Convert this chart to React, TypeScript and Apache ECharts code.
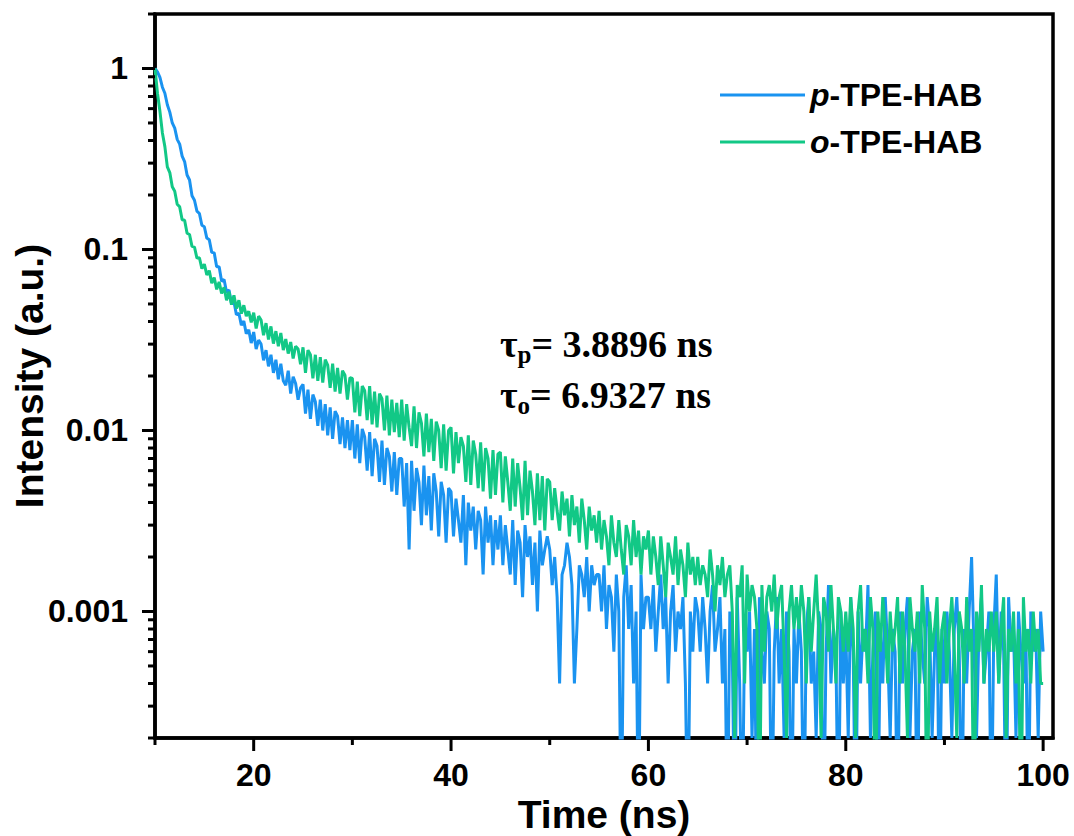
import React, { useEffect, useRef } from "react";
import * as echarts from "echarts";

// ---- data (time-resolved PL decay, photon counts per 0.25 ns channel, from 10 ns) ----
const T0_NS = 10;
const DT_NS = 0.25;
const PEAK_COUNTS = 5000; // counts at the normalised maximum (intensity 1)
const BELOW_FLOOR = 0.00005; // empty channels are drawn below the axis floor

const seriesNames = ["p-TPE-HAB", "o-TPE-HAB"];
const seriesColors = ["#1A93F0", "#12C886"];

const pCounts = [
  5000, 4790, 4460, 3940, 3650, 3150, 2870, 2500, 2340, 2030, 1910, 1640, 1530, 1290, 1210, 990, 935, 815, 790, 680,
  668, 578, 566, 482, 479, 401, 402, 334, 341, 290, 299, 252, 258, 218, 222, 191, 201, 171, 180, 152,
  175, 141, 158, 150, 122, 139, 113, 131, 104, 123, 96, 117, 94, 89, 107, 80, 99, 91, 74, 86,
  90, 62, 84, 58, 79, 72, 53, 74, 50, 70, 47, 67, 45, 64, 60, 42, 59, 40, 57, 39,
  57, 35, 54, 33, 51, 46, 30, 49, 28, 45, 41, 26, 44, 25, 40, 36, 23, 38, 22, 35,
  35, 19, 33, 11, 34, 18, 31, 26, 15, 32, 17, 28, 14, 29, 23, 13, 26, 22, 12, 24,
  23, 13, 21, 16, 12, 22, 9, 20, 14, 19, 11, 18, 16, 8, 19, 12, 17, 9, 16, 11,
  17, 9, 15, 11, 8, 16, 7, 14, 12, 6, 15, 10, 13, 7, 12, 5, 14, 9, 11, 13,
  11, 7, 10, 6, 2, 8, 9, 12, 10, 7, 2, 4, 9, 8, 6, 10, 5, 9, 7, 8,
  8, 5, 9, 4, 7, 6, 3, 8, 5, 0, 6, 9, 4, 7, 2, 5, 0, 8, 4, 6,
  6, 4, 7, 3, 5, 8, 4, 6, 2, 5, 7, 3, 5, 4, 6, 2, 0, 5, 3, 6,
  5, 3, 6, 4, 2, 5, 7, 3, 4, 6, 2, 4, 0, 5, 3, 0, 6, 2, 0, 4,
  3, 5, 1, 4, 0, 6, 3, 2, 5, 4, 0, 3, 6, 2, 4, 1, 5, 3, 0, 4,
  2, 5, 3, 0, 4, 6, 2, 3, 1, 5, 4, 0, 3, 7, 2, 4, 3, 0, 5, 2,
  4, 1, 6, 3, 0, 5, 2, 4, 3, 7, 1, 3, 5, 0, 4, 2, 6, 3, 1, 4,
  3, 0, 5, 2, 4, 6, 1, 3, 4, 0, 5, 3, 2, 6, 4, 1, 3, 5, 0, 4,
  2, 5, 3, 1, 4, 6, 3, 0, 4, 2, 5, 10, 3, 1, 4, 6, 2, 3, 5, 0,
  4, 8, 2, 5, 3, 0, 6, 3, 4, 1, 5, 3, 2, 4, 0, 5, 3, 4, 1, 5,
  3,
];

const oCounts = [
  5000, 3650, 2900, 2200, 1850, 1430, 1330, 1110, 1050, 890, 860, 730, 725, 615, 605, 520, 515, 448, 450, 392,
  415, 362, 382, 326, 350, 301, 331, 286, 309, 262, 292, 248, 279, 236, 262, 221, 246, 214, 228, 198,
  224, 183, 214, 204, 168, 196, 159, 188, 151, 177, 146, 173, 139, 160, 133, 154, 125, 146, 141, 116,
  144, 104, 139, 131, 97, 131, 94, 127, 92, 123, 115, 86, 117, 82, 111, 80, 107, 101, 74, 98,
  97, 63, 93, 60, 88, 83, 57, 88, 54, 82, 52, 80, 75, 50, 78, 47, 74, 49, 71, 46,
  74, 44, 70, 52, 41, 68, 40, 63, 55, 36, 62, 38, 58, 34, 56, 50, 31, 54, 30, 50,
  52, 29, 49, 33, 46, 41, 26, 47, 25, 44, 37, 24, 43, 23, 40, 35, 21, 39, 22, 37,
  38, 20, 36, 26, 18, 35, 19, 33, 24, 16, 34, 17, 30, 23, 15, 29, 16, 28, 14, 27,
  26, 16, 24, 18, 14, 23, 17, 21, 13, 22, 15, 19, 12, 21, 16, 11, 19, 14, 17, 12,
  18, 11, 16, 13, 9, 17, 12, 10, 16, 11, 8, 15, 13, 9, 16, 10, 14, 8, 13, 11,
  14, 8, 13, 10, 7, 13, 9, 6, 12, 10, 8, 13, 7, 11, 9, 6, 12, 8, 10, 7,
  10, 7, 9, 8, 6, 11, 8, 5, 9, 7, 10, 6, 8, 9, 5, 1, 7, 6, 9, 2,
  8, 5, 7, 6, 4, 0, 7, 3, 6, 7, 5, 8, 4, 6, 7, 3, 1, 5, 7, 4,
  6, 4, 7, 5, 2, 6, 3, 5, 8, 4, 1, 6, 5, 3, 7, 4, 2, 6, 5, 3,
  5, 3, 6, 4, 1, 5, 7, 3, 4, 2, 6, 4, 0, 5, 3, 6, 4, 2, 5, 3,
  4, 6, 2, 5, 3, 1, 6, 4, 3, 5, 2, 7, 4, 0, 5, 3, 4, 6, 2, 4,
  5, 2, 4, 6, 3, 1, 5, 4, 2, 6, 3, 4, 0, 5, 3, 7, 2, 4, 3, 5,
  3, 5, 2, 4, 6, 1, 4, 3, 5, 2, 4, 0, 6, 3, 4, 2, 5, 3, 4, 2,
  2,
];

// ---- axes ----
const X_MIN = 10;
const X_MAX = 101;
const Y_MIN = 0.0002;
const Y_MAX = 2;
const xTickMajor = [20, 40, 60, 80, 100];
const xTickMinor = [10, 30, 50, 70, 90];
const yTickMajor = [0.001, 0.01, 0.1, 1];
const yTickLabels = ["0.001", "0.01", "0.1", "1"];
const yTickMinor = [
  0.0002, 0.0003, 0.0004, 0.0005, 0.0006, 0.0007, 0.0008, 0.0009,
  0.002, 0.003, 0.004, 0.005, 0.006, 0.007, 0.008, 0.009,
  0.02, 0.03, 0.04, 0.05, 0.06, 0.07, 0.08, 0.09,
  0.2, 0.3, 0.4, 0.5, 0.6, 0.7, 0.8, 0.9, 2,
];
const xAxisTitle = "Time (ns)";
const yAxisTitle = "Intensity (a.u.)";
const lifetimeNotes = [
  { sub: "p", text: "= 3.8896 ns" },
  { sub: "o", text: "= 6.9327 ns" },
];

const SANS = "'Liberation Sans', Arial, Helvetica, sans-serif";
const SERIF = "'Liberation Serif', 'Times New Roman', serif";

function toPoints(counts: number[]) {
  return counts.map((c, i) => [T0_NS + i * DT_NS, c > 0 ? c / PEAK_COUNTS : BELOW_FLOOR]);
}

function tickSeries(values: number[], axis: "x" | "y", len: number) {
  return {
    type: "custom",
    silent: true,
    clip: false,
    z: 10,
    data: values.map((v) => (axis === "x" ? [v, Y_MIN] : [X_MIN, v])),
    renderItem: (_params: any, api: any) => {
      const p = api.coord([api.value(0), api.value(1)]);
      const shape =
        axis === "x"
          ? { x1: p[0], y1: p[1], x2: p[0], y2: p[1] + len }
          : { x1: p[0], y1: p[1], x2: p[0] - len, y2: p[1] };
      return { type: "line", shape, style: { stroke: "#000", lineWidth: 3 } };
    },
  };
}

export default function App() {
  const ref = useRef<HTMLDivElement>(null);

  useEffect(() => {
    if (!ref.current) return;
    const chart = echarts.init(ref.current, undefined, { renderer: "svg" });
    const labelStyle = { color: "#000", fontSize: 32, fontWeight: "bold", fontFamily: SANS };
    const titleStyle = { color: "#000", fontSize: 39, lineHeight: 40, fontWeight: "bold", fontFamily: SANS };
    const noteRich = {
      t: { fill: "#000", fontFamily: SERIF, fontWeight: "bold", fontSize: 38 },
      s: { fill: "#000", fontFamily: SERIF, fontWeight: "bold", fontSize: 25, padding: [21, 0, 0, 0] },
    };
    chart.setOption({
      animation: false,
      backgroundColor: "#fff",
      grid: {
        left: 155,
        right: 21,
        top: 14,
        bottom: 98,
        show: true,
        borderColor: "#000",
        borderWidth: 3.5,
        backgroundColor: "transparent",
        outerBoundsMode: "none",
      },
      legend: {
        orient: "vertical",
        left: 715,
        top: 72,
        itemWidth: 85,
        itemHeight: 3,
        itemGap: 11,
        icon: "rect",
        data: seriesNames,
        textStyle: {
          ...labelStyle,
          fontSize: 32,
          lineHeight: 36,
          rich: {
            i: { fontStyle: "italic", fontWeight: "bold", fontSize: 32, fontFamily: SANS, color: "#000", lineHeight: 36 },
            n: { fontWeight: "bold", fontSize: 32, fontFamily: SANS, color: "#000", lineHeight: 36 },
          },
        },
        formatter: (name: string) => `{i|${name.slice(0, 1)}}{n|${name.slice(1)}}`,
      },
      xAxis: {
        type: "value",
        min: X_MIN,
        max: X_MAX,
        interval: 10,
        axisLine: { show: true, onZero: false, lineStyle: { color: "#000", width: 3.5 } },
        axisTick: { show: false },
        splitLine: { show: false },
        axisLabel: {
          ...labelStyle,
          margin: 21,
          formatter: (v: number) => (xTickMajor.includes(v) ? String(v) : ""),
        },
        name: xAxisTitle,
        nameLocation: "middle",
        nameGap: 56,
        nameMoveOverlap: false,
        nameTextStyle: titleStyle,
      },
      yAxis: {
        type: "log",
        logBase: 10,
        min: Y_MIN,
        max: Y_MAX,
        axisLine: { show: true, lineStyle: { color: "#000", width: 3.5 } },
        axisTick: { show: false },
        splitLine: { show: false },
        axisLabel: {
          ...labelStyle,
          margin: 27,
          formatter: (v: number) => {
            const i = yTickMajor.findIndex((t) => Math.abs(v - t) / t < 1e-6);
            return i >= 0 ? yTickLabels[i] : "";
          },
        },
        name: yAxisTitle,
        nameLocation: "middle",
        nameGap: 106,
        nameMoveOverlap: false,
        nameTextStyle: titleStyle,
      },
      graphic: lifetimeNotes.map((n, i) => ({
        type: "text",
        x: 500,
        y: 344 + i * 51,
        style: {
          text: `{t|τ}{s|${n.sub}}{t|${n.text}}`,
          rich: noteRich,
          verticalAlign: "middle",
          align: "left",
        },
      })),
      series: [
        {
          name: seriesNames[0],
          type: "line",
          data: toPoints(pCounts),
          showSymbol: false,
          symbol: "none",
          clip: true,
          z: 2,
          color: seriesColors[0],
          lineStyle: { color: seriesColors[0], width: 3 },
        },
        {
          name: seriesNames[1],
          type: "line",
          data: toPoints(oCounts),
          showSymbol: false,
          symbol: "none",
          clip: true,
          z: 3,
          color: seriesColors[1],
          lineStyle: { color: seriesColors[1], width: 3 },
        },
        tickSeries(xTickMajor, "x", 13),
        tickSeries(xTickMinor, "x", 7),
        tickSeries(yTickMajor, "y", 13),
        tickSeries(yTickMinor, "y", 7),
      ],
    });
    return () => chart.dispose();
  }, []);

  return (
    <div
      ref={ref}
      style={{ position: "fixed", left: 0, top: 0, width: 1074, height: 836, background: "#fff" }}
    />
  );
}
